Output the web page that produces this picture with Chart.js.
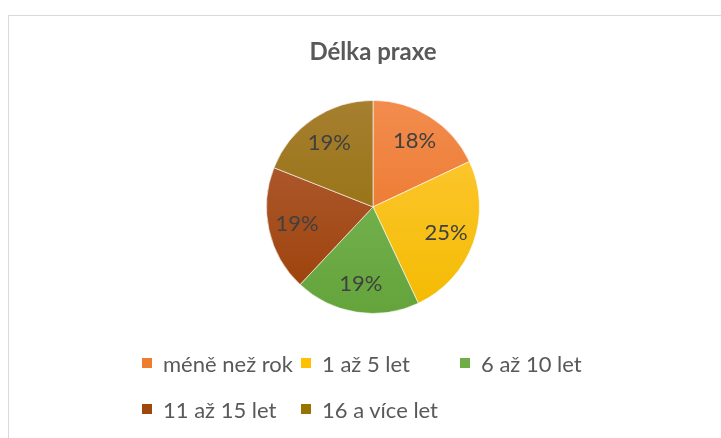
<!DOCTYPE html>
<html>
<head>
<meta charset="utf-8">
<script src="https://cdn.jsdelivr.net/npm/chart.js@4.4.1/dist/chart.umd.min.js"></script>
<style>
  html, body { margin: 0; padding: 0; background: #fff; }
  #wrap { position: relative; width: 721px; height: 438px; overflow: hidden; }
  #frame { position: absolute; left: 8px; top: 15px; width: 760px; height: 480px; border: 1px solid #d9d9d9; box-sizing: border-box; }
  canvas { position: absolute; left: 0; top: 0; }
  #legend { position: absolute; left: 142px; top: 349px; font-family: Lato, "Liberation Sans", sans-serif; font-size: 22px; color: #595959; }
  .item { position: absolute; white-space: nowrap; display: flex; align-items: center; height: 28px; }
  .box { width: 10px; height: 10px; margin-right: 11px; }
</style>
</head>
<body>
<div id="wrap">
  <div id="frame"></div>
  <canvas id="c" width="721" height="438"></canvas>
  <div id="legend"></div>
</div>
<script>
const categories = ["méně než rok", "1 až 5 let", "6 až 10 let", "11 až 15 let", "16 a více let"];
const values = [18, 25, 19, 19, 19];
const topColors = ["#F28C4E", "#FFC93C", "#7FBA5C", "#B3623D", "#A67F30"];
const bottomColors = ["#E96F1E", "#F3BB00", "#64A43B", "#9B3F05", "#8F6A00"];
const legendColors = ["#ED7D31", "#FFC000", "#70AD47", "#9E480E", "#997300"];
const chartTitle = "Délka praxe";

const labelPlugin = {
  id: 'sliceLabels',
  afterDatasetsDraw(chart) {
    const ctx = chart.ctx;
    const meta = chart.getDatasetMeta(0);
    const total = values.reduce((a, b) => a + b, 0);
    ctx.save();
    ctx.font = '22px Lato, "Liberation Sans", sans-serif';
    ctx.fillStyle = '#404040';
    ctx.textAlign = 'center';
    ctx.textBaseline = 'middle';
    meta.data.forEach((arc, i) => {
      const p = arc.getProps(['x', 'y', 'startAngle', 'endAngle', 'outerRadius'], true);
      const mid = (p.startAngle + p.endAngle) / 2;
      const r = p.outerRadius * 0.73;
      const pct = Math.round(values[i] / total * 100) + '%';
      ctx.fillText(pct, p.x + Math.cos(mid) * r, p.y + Math.sin(mid) * r);
    });
    ctx.restore();
  }
};

function grad(ctx, i) {
  const ca = ctx.chart.chartArea;
  if (!ca) return legendColors[i];
  const g = ctx.chart.ctx.createLinearGradient(0, ca.top, 0, ca.bottom);
  g.addColorStop(0, topColors[i]);
  g.addColorStop(1, bottomColors[i]);
  return g;
}

new Chart(document.getElementById('c'), {
  type: 'pie',
  data: {
    labels: categories,
    datasets: [{
      data: values,
      backgroundColor: (ctx) => grad(ctx, ctx.dataIndex),
      borderColor: 'rgba(255,255,255,0.6)',
      borderWidth: 1
    }]
  },
  options: {
    responsive: false,
    animation: false,
    rotation: 0,
    layout: { padding: { left: 266, right: 241, top: 0, bottom: 124 } },
    plugins: {
      legend: { display: false },
      tooltip: { enabled: false },
      title: {
        display: true,
        text: chartTitle,
        color: '#595959',
        font: { family: 'Lato, "Liberation Sans", sans-serif', size: 24, weight: 'bold' },
        lineHeight: 1.2,
        padding: { top: 38, bottom: 33 }
      }
    }
  },
  plugins: [labelPlugin]
});

const legend = document.getElementById('legend');
const cols = [0, 159, 318];
categories.forEach((c, i) => {
  const d = document.createElement('div');
  d.className = 'item';
  d.style.left = cols[i % 3] + 'px';
  d.style.top = (Math.floor(i / 3) * 46) + 'px';
  const b = document.createElement('span');
  b.className = 'box';
  b.style.background = legendColors[i];
  const t = document.createElement('span');
  t.textContent = c;
  d.appendChild(b); d.appendChild(t);
  legend.appendChild(d);
});
</script>
</body>
</html>
